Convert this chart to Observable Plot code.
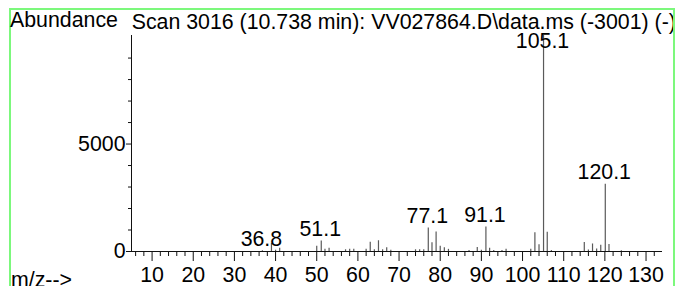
<!DOCTYPE html>
<html><head><meta charset="utf-8">
<script src="https://cdn.jsdelivr.net/npm/d3@7"></script>
<script src="https://cdn.jsdelivr.net/npm/@observablehq/plot@0.6"></script>
<style>
html,body{margin:0;padding:0;background:#fff;overflow:hidden}
#wrap{position:relative;width:675px;height:286px;overflow:hidden;font-family:"Liberation Sans",Arial,sans-serif;font-size:21.33px;line-height:21.33px;color:#000}
#chart{position:absolute;left:0;top:0}
#frame{position:absolute;left:9px;top:8px;width:666px;height:320px;border:2px solid #7cf87c;box-sizing:border-box;pointer-events:none}
#clip{position:absolute;left:0;top:0;width:673px;height:286px;overflow:hidden}
.t{position:absolute;white-space:nowrap}
</style></head>
<body>
<div id="wrap">
  <div id="chart"></div>
  <div id="frame"></div>
  <div id="clip">
    <div class="t" style="left:10px;top:10.3px">Abundance</div>
    <div class="t" style="left:131.7px;top:12px">Scan 3016 (10.738 min): VV027864.D\data.ms (-3001) (-)</div>
    <div class="t" style="left:11px;top:270px">m/z--&gt;</div>
  </div>
</div>
<script>
// m/z of each peak
const mzValues = [36.8, 39.0, 40.0, 41.0, 50.0, 51.1, 52.0, 53.0, 57.0, 58.0, 59.0, 62.0, 63.0, 64.0, 65.0, 66.0, 67.0, 68.0,
  74.0, 75.0, 76.0, 77.1, 78.0, 79.0, 80.0, 81.0, 82.0, 87.0, 89.0, 90.0, 91.1, 92.0, 93.0, 95.0, 96.0,
  102.0, 103.0, 104.0, 105.1, 106.0, 107.0, 115.0, 116.0, 117.0, 118.0, 119.0, 120.1, 121.0, 124.0];
// abundance of each peak
const abundance = [40, 370, 60, 150, 250, 490, 100, 150, 80, 100, 100, 100, 430, 80, 500, 80, 170, 60,
  80, 80, 80, 1090, 410, 910, 250, 180, 100, 50, 190, 60, 1145, 150, 50, 50, 100,
  100, 870, 310, 10050, 900, 50, 420, 70, 350, 120, 290, 3130, 330, 30];
// labelled peaks
const labelMz = [36.8, 51.1, 77.1, 91.1, 105.1, 120.1];
// axis ticks
const xMajorTicks = [10, 20, 30, 40, 50, 60, 70, 80, 90, 100, 110, 120, 130];
const xMinorTicks = [6, 8, 12, 14, 16, 18, 22, 24, 26, 28, 32, 34, 36, 38, 42, 44, 46, 48, 52, 54, 56, 58, 62, 64, 66, 68,
  72, 74, 76, 78, 82, 84, 86, 88, 92, 94, 96, 98, 102, 104, 106, 108, 112, 114, 116, 118, 122, 124, 126, 128, 132];
const yMajorTicks = [0, 5000];
const yMinorTicks = [1000, 2000, 3000, 4000, 6000, 7000, 8000, 9000];

const peaks = mzValues.map((mz, i) => ({mz, ab: abundance[i]}));
const maxAb = d3.max(abundance);
const labels = peaks.filter(d => labelMz.includes(d.mz));
const normalLabels = labels.filter(d => d.ab < maxAb);
const topLabels = labels.filter(d => d.ab === maxAb);

const font = "'Liberation Sans', Arial, sans-serif";
const chart = Plot.plot({
  width: 675, height: 286,
  marginLeft: 131, marginRight: 13, marginTop: 35, marginBottom: 35,
  style: {fontFamily: font, fontSize: "21.33px", background: "transparent", color: "#000", overflow: "visible"},
  x: {domain: [5, 134], axis: null},
  y: {domain: [0, 10050], axis: null},
  marks: [
    Plot.ruleX(peaks, {x: "mz", y1: 0, y2: "ab", stroke: "#5a5a5a", strokeWidth: 1.2}),
    Plot.ruleY([0], {stroke: "#111"}),
    Plot.ruleX([5], {stroke: "#111"}),
    Plot.axisX({ticks: xMajorTicks, tickSize: 10, tickPadding: 5, tickFormat: d => String(d), label: null, stroke: "#111"}),
    Plot.axisX({ticks: xMinorTicks, tickSize: 5, tickFormat: () => "", label: null, stroke: "#111"}),
    Plot.axisY({ticks: yMajorTicks, tickSize: 5, tickPadding: 1, tickFormat: d => String(d), label: null, stroke: "#111"}),
    Plot.axisY({ticks: yMinorTicks, tickSize: 3, tickFormat: () => "", label: null, stroke: "#111"}),
    Plot.text(normalLabels, {x: "mz", y: "ab", text: d => d.mz.toFixed(1), lineAnchor: "bottom", dy: -5, dx: -1, fill: "#000"}),
    Plot.text(topLabels, {x: "mz", frameAnchor: "top", text: d => d.mz.toFixed(1), lineAnchor: "top", dy: -3, dx: -1, fill: "#000"})
  ]
});
document.getElementById("chart").appendChild(chart);
</script>
</body></html>
